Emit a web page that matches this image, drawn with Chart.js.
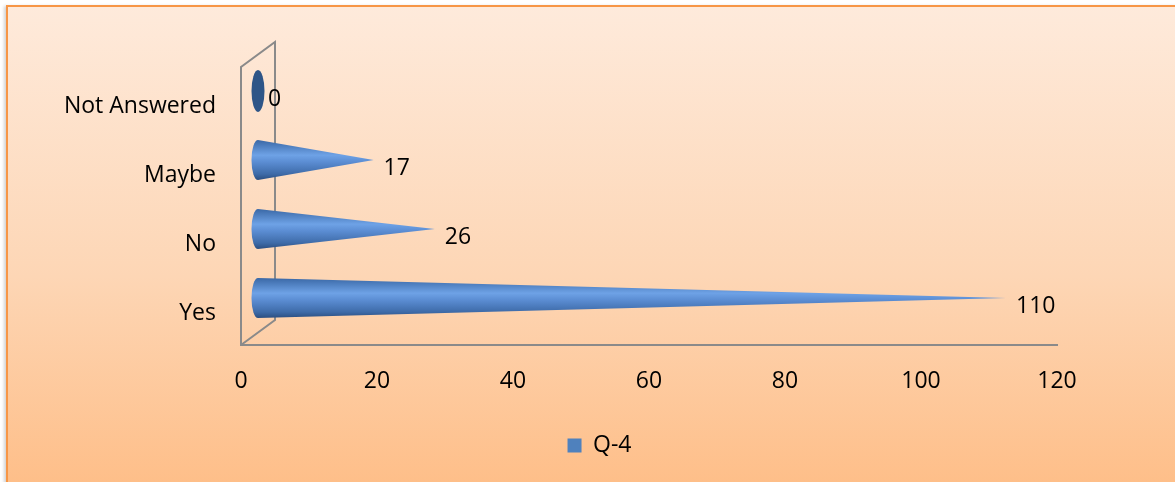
<!DOCTYPE html>
<html>
<head>
<meta charset="utf-8">
<script src="https://cdn.jsdelivr.net/npm/chart.js@4.4.0/dist/chart.umd.min.js"></script>
<style>
  html, body { margin: 0; padding: 0; background: #fff; overflow: hidden; }
  #frame {
    position: absolute; left: 6px; top: 5px;
    width: 1185px; height: 490px;
    border: 2px solid #F79646;
    background: linear-gradient(to bottom, #FEEADB 0%, #FDD6B5 55%, #FEBD86 100%);
    box-shadow: -2px 1px 3px rgba(0,0,0,0.18);
  }
  #wrap { position: absolute; left: 8px; top: 7px; width: 1183px; height: 475px; }
</style>
</head>
<body>
<div id="frame"></div>
<div id="wrap"><canvas id="chart"></canvas></div>
<script>
const categories = ['Not Answered', 'Maybe', 'No', 'Yes'];
const responses = [0, 17, 26, 110];
const xTicks = [0, 20, 40, 60, 80, 100, 120];
const seriesName = 'Q-4';

// fake 3D depth of the plot box
const DEPTH_X = 34;
const DEPTH_Y = -25;
const FONT = { family: '"Open Sans", sans-serif', size: 23 };

// side wall behind the cones
const wallPlugin = {
  id: 'wall',
  beforeDatasetsDraw(chart) {
    const { ctx, chartArea: a } = chart;
    ctx.save();
    ctx.strokeStyle = '#8a8a8a';
    ctx.lineWidth = 2;
    ctx.beginPath();
    ctx.moveTo(a.left, a.bottom);
    ctx.lineTo(a.left, a.top - 2);
    ctx.lineTo(a.left + DEPTH_X, a.top - 2 + DEPTH_Y);
    ctx.lineTo(a.left + DEPTH_X, a.bottom + DEPTH_Y);
    ctx.lineTo(a.left, a.bottom);
    ctx.stroke();
    ctx.restore();
  }
};

// legend spans the whole canvas so it sits centred on the frame
const legendSpan = {
  id: 'legendSpan',
  afterLayout(chart) {
    const lg = chart.legend;
    if (!lg) return;
    lg.left = 0;
    lg.right = chart.width;
    lg.width = chart.width;
  }
};

// draws each bar as a cone instead of a rectangle
const conePlugin = {
  id: 'cones',
  beforeDatasetDraw(chart, args) {
    const { ctx } = chart;
    const values = chart.data.datasets[args.index].data;
    args.meta.data.forEach((bar, i) => {
      const r = bar.height / 2;
      const cy = bar.y + DEPTH_Y / 2;
      const bx = bar.base + DEPTH_X / 2;
      const tx = bar.x + DEPTH_X / 2;
      const rx = 6.5;
      ctx.save();
      if (values[i] === 0) {
        ctx.fillStyle = '#2E5587';
        ctx.beginPath();
        ctx.ellipse(bx, cy, rx, r + 1, 0, 0, Math.PI * 2);
        ctx.fill();
      } else {
        const g = ctx.createLinearGradient(0, cy - r, 0, cy + r);
        g.addColorStop(0, '#3A68A6');
        g.addColorStop(0.38, '#6EA2E6');
        g.addColorStop(0.55, '#5B8DD3');
        g.addColorStop(0.85, '#3E6BA8');
        g.addColorStop(1, '#2B4E80');
        ctx.fillStyle = g;
        ctx.beginPath();
        ctx.ellipse(bx, cy, rx, r, 0, -Math.PI / 2, Math.PI / 2, true);
        ctx.lineTo(tx, cy);
        ctx.closePath();
        ctx.fill();
      }
      ctx.restore();
    });
    return false;
  },
  afterDatasetsDraw(chart) {
    const { ctx } = chart;
    const meta = chart.getDatasetMeta(0);
    const values = chart.data.datasets[0].data;
    ctx.save();
    ctx.fillStyle = '#000';
    ctx.font = FONT.size + 'px ' + FONT.family;
    ctx.textAlign = 'left';
    ctx.textBaseline = 'middle';
    meta.data.forEach((bar, i) => {
      ctx.fillText(String(values[i]), bar.x + DEPTH_X / 2 + 10, bar.y - 4);
    });
    ctx.restore();
  }
};

new Chart(document.getElementById('chart'), {
  type: 'bar',
  data: {
    labels: categories,
    datasets: [{
      label: seriesName,
      data: responses,
      backgroundColor: '#4F81BD',
      borderWidth: 0,
      categoryPercentage: 1,
      barPercentage: 0.58
    }]
  },
  options: {
    indexAxis: 'y',
    responsive: true,
    maintainAspectRatio: false,
    animation: false,
    layout: { padding: { top: 62, right: 134, left: 0, bottom: 15 } },
    scales: {
      x: {
        min: xTicks[0],
        max: xTicks[xTicks.length - 1],
        ticks: { stepSize: xTicks[1] - xTicks[0], color: '#000', font: FONT, padding: 23 },
        grid: { display: false, drawTicks: false },
        border: { display: true, color: '#8a8a8a', width: 2 },
        afterFit(scale) { scale.height = 79; }
      },
      y: {
        ticks: { color: '#000', font: FONT, padding: 25, labelOffset: 3 },
        grid: { display: false, drawTicks: false },
        border: { display: true, color: '#8a8a8a', width: 2 },
        afterFit(scale) { scale.width = 233; }
      }
    },
    plugins: {
      legend: {
        position: 'bottom',
        labels: { color: '#000', font: FONT, boxWidth: 14, boxHeight: 14, padding: 10 }
      },
      tooltip: { enabled: false }
    }
  },
  plugins: [wallPlugin, legendSpan, conePlugin]
});
</script>
</body>
</html>
